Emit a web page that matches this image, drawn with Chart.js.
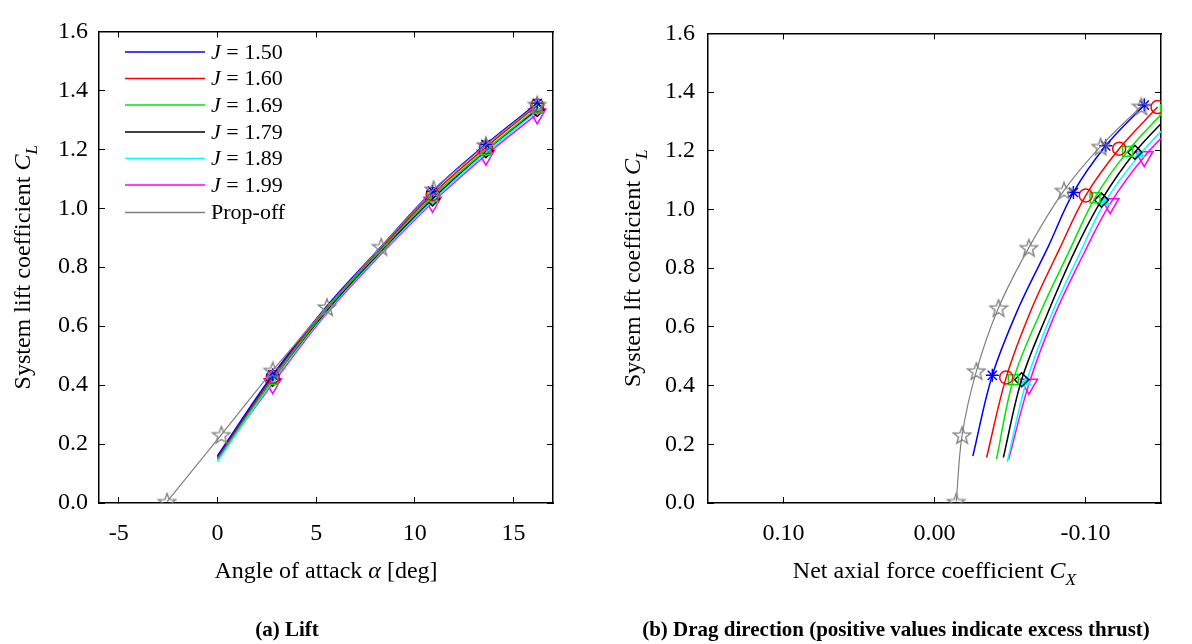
<!DOCTYPE html>
<html>
<head>
<meta charset="utf-8">
<script src="https://cdn.jsdelivr.net/npm/chart.js@4.4.0/dist/chart.umd.min.js"></script>
<style>
body { margin: 0; background: #fff; width: 1192px; height: 644px; overflow: hidden; position: relative; font-family: 'Liberation Serif', serif; }
canvas { position: absolute; top: 0; }
.cap { position: absolute; top: 617px; font-weight: bold; font-size: 21px; transform: translateX(-50%); white-space: nowrap; }
</style>
</head>
<body>
<canvas id="lift" width="596" height="644" style="left:0"></canvas>
<canvas id="drag" width="596" height="644" style="left:596px"></canvas>
<div class="cap" style="left:287px">(a) Lift</div>
<div class="cap" style="left:896px">(b) Drag direction (positive values indicate excess thrust)</div>
<script>
// advance ratios shown in the legend
const jLabels = ['1.50', '1.60', '1.69', '1.79', '1.89', '1.99'];

// tick values
const alphaTicks = [-5, 0, 5, 10, 15];
const cxTicks = [0.10, 0.00, -0.10];
const clTicks = [0, 0.2, 0.4, 0.6, 0.8, 1.0, 1.2, 1.4, 1.6];

// angle of attack along the fitted curves, and which of them are measured points
const alphaCurve = [0, 2.8, 5.5, 8.3, 10.9, 13.6, 16.2];
const measured = [false, true, false, false, true, true, true];

// lift coefficient per J
const clJ150 = [0.160, 0.435, 0.665, 0.870, 1.058, 1.217, 1.356];
const clJ160 = [0.155, 0.428, 0.660, 0.865, 1.048, 1.207, 1.349];
const clJ169 = [0.150, 0.420, 0.655, 0.860, 1.040, 1.198, 1.340];
const clJ179 = [0.155, 0.420, 0.650, 0.855, 1.032, 1.195, 1.335];
const clJ189 = [0.140, 0.412, 0.645, 0.850, 1.025, 1.187, 1.330];
const clJ199 = [0.148, 0.405, 0.640, 0.845, 1.020, 1.180, 1.320];

// net axial force coefficient per J
const cxJ150 = [-0.0254, -0.0383, -0.0557, -0.0750, -0.0920, -0.1134, -0.1389];
const cxJ160 = [-0.0345, -0.0475, -0.0642, -0.0827, -0.1002, -0.1223, -0.1477];
const cxJ169 = [-0.0411, -0.0522, -0.0706, -0.0894, -0.1063, -0.1278, -0.1530];
const cxJ179 = [-0.0456, -0.0577, -0.0752, -0.0926, -0.1106, -0.1327, -0.1580];
const cxJ189 = [-0.0482, -0.0608, -0.0777, -0.0962, -0.1128, -0.1360, -0.1620];
const cxJ199 = [-0.0491, -0.0625, -0.0795, -0.0984, -0.1163, -0.1389, -0.1650];

// prop-off
const alphaPropOff = [-2.55, 0.2, 2.8, 5.55, 8.3, 10.95, 13.6, 16.2];
const clPropOff = [0.005, 0.232, 0.450, 0.665, 0.870, 1.065, 1.215, 1.352];
const cxPropOff = [-0.0144, -0.0183, -0.0278, -0.0424, -0.0625, -0.0858, -0.1100, -0.1370];

const clAll = [clJ150, clJ160, clJ169, clJ179, clJ189, clJ199];
const cxAll = [cxJ150, cxJ160, cxJ169, cxJ179, cxJ189, cxJ199];

const FONT = 'Liberation Serif';
const looks = [
    { color: '#0000ff', style: 'star', r: 6.5, fill: false, rot: 0 },
    { color: '#ff0000', style: 'circle', r: 6.5, fill: false, rot: 0 },
    { color: '#00e600', style: 'rect', r: 7, fill: false, rot: 0 },
    { color: '#000000', style: 'rectRot', r: 7, fill: false, rot: 0 },
    { color: '#00ffff', style: 'triangle', r: 5, fill: true, rot: 0 },
    { color: '#ff00ff', style: 'triangle', r: 10, fill: false, rot: 180 }
];
const grey = '#808080';

function makePentagram(size, color) {
    const c = document.createElement('canvas');
    c.width = size; c.height = size;
    const g = c.getContext('2d');
    const R = size / 2 - 1, r = R * 0.42, m = size / 2;
    g.beginPath();
    for (let i = 0; i < 10; i++) {
        const rad = i % 2 === 0 ? R : r;
        const a = -Math.PI / 2 + i * Math.PI / 5;
        const px = m + rad * Math.cos(a), py = m + 1 + rad * Math.sin(a);
        if (i === 0) g.moveTo(px, py); else g.lineTo(px, py);
    }
    g.closePath();
    g.strokeStyle = color;
    g.lineWidth = 1.4;
    g.stroke();
    return c;
}
const starImg = makePentagram(20, grey);

function pts(xs, ys) {
    return xs.map((x, i) => ({ x: x, y: ys[i] }));
}

function buildDatasets(xsFor, propX, propTension) {
    let sets = [];
    sets.push({
        data: pts(propX, clPropOff),
        showLine: true,
        borderColor: grey,
        borderWidth: 1.2,
        tension: propTension,
        pointStyle: starImg,
        pointRadius: 8,
        order: 0
    });
    looks.forEach((lk, k) => {
        sets.push({
            data: pts(xsFor(k), clAll[k]),
            showLine: true,
            borderColor: lk.color,
            borderWidth: 1.5,
            tension: 0.35,
            pointStyle: lk.style,
            pointRotation: lk.rot,
            pointRadius: measured.map(m => m ? lk.r : 0),
            pointBorderColor: lk.color,
            pointBorderWidth: 1.5,
            pointBackgroundColor: lk.fill ? lk.color : 'rgba(0,0,0,0)',
            order: k + 1
        });
    });
    return sets;
}

function drawRich(ctx, segs, cx, cy, angle, size) {
    ctx.save();
    ctx.translate(cx, cy);
    ctx.rotate(angle);
    ctx.fillStyle = '#000';
    ctx.textBaseline = 'alphabetic';
    let total = 0;
    const parts = segs.map(s => {
        const fs = s.sub ? size * 0.72 : size;
        const f = (s.italic ? 'italic ' : '') + fs + 'px "' + FONT + '"';
        ctx.font = f;
        const w = ctx.measureText(s.t).width;
        total += w;
        return { s: s, f: f, w: w };
    });
    let x = -total / 2;
    parts.forEach(p => {
        ctx.font = p.f;
        ctx.fillText(p.s.t, x, size * 0.33 + (p.s.sub ? size * 0.3 : 0));
        x += p.w;
    });
    ctx.restore();
}

const titlePlugin = {
    id: 'richTitles',
    afterDraw(chart, args, opts) {
        const { ctx, chartArea } = chart;
        drawRich(ctx, opts.x, (chartArea.left + chartArea.right) / 2, opts.xTitleY, 0, 24);
        drawRich(ctx, opts.y, opts.yTitleX, (chartArea.top + chartArea.bottom) / 2, -Math.PI / 2, 24);
    }
};

const legendPlugin = {
    id: 'jLegend',
    afterDraw(chart, args, opts) {
        if (!opts.show) return;
        const ctx = chart.ctx;
        const rows = [52, 78.5, 105, 132, 158.5, 185, 212.5];
        rows.forEach((y, i) => {
            ctx.save();
            ctx.strokeStyle = i < looks.length ? looks[i].color : grey;
            ctx.lineWidth = 1.6;
            ctx.beginPath();
            ctx.moveTo(125, y);
            ctx.lineTo(205, y);
            ctx.stroke();
            ctx.fillStyle = '#000';
            ctx.textBaseline = 'middle';
            if (i < jLabels.length) {
                ctx.font = 'italic 22px "' + FONT + '"';
                ctx.fillText('J', 211, y + 1);
                const w = ctx.measureText('J ').width;
                ctx.font = '22px "' + FONT + '"';
                ctx.fillText('= ' + jLabels[i], 211 + w, y + 1);
            } else {
                ctx.font = '22px "' + FONT + '"';
                ctx.fillText('Prop-off', 211, y + 1);
            }
            ctx.restore();
        });
    }
};

function tickFont() {
    return { family: FONT, size: 24 };
}

function fixTicks(values) {
    return function (s) {
        s.ticks = values.map(v => ({ value: v }));
    };
}

function makeScales(xMin, xMax, xTickVals, reverse, xFmt, yPad, yWidth) {
    const grid = { drawOnChartArea: false, tickLength: -6, color: '#000', tickWidth: 1 };
    const border = { color: '#000', width: 1.5 };
    return {
        x: {
            type: 'linear', position: 'bottom', min: xMin, max: xMax, reverse: reverse,
            afterBuildTicks: fixTicks(xTickVals),
            ticks: { padding: 22, color: '#000', font: tickFont(), maxRotation: 0, autoSkip: false, callback: xFmt },
            grid: grid, border: border,
            afterFit(s) { s.height = 141; }
        },
        xTop: {
            type: 'linear', position: 'top', min: xMin, max: xMax, reverse: reverse,
            afterBuildTicks: fixTicks(xTickVals),
            ticks: { display: false },
            grid: grid, border: border,
            afterFit(s) { s.height = 0; }
        },
        y: {
            type: 'linear', position: 'left', min: 0, max: 1.6,
            afterBuildTicks: fixTicks(clTicks),
            ticks: { padding: yPad, color: '#000', font: tickFont(), autoSkip: false, callback: v => v.toFixed(1) },
            grid: grid, border: border,
            afterFit(s) { s.width = yWidth; }
        },
        yRight: {
            type: 'linear', position: 'right', min: 0, max: 1.6,
            afterBuildTicks: fixTicks(clTicks),
            ticks: { display: false },
            grid: grid, border: border,
            afterFit(s) { s.width = 0; }
        }
    };
}

Chart.register(titlePlugin, legendPlugin);

new Chart(document.getElementById('lift'), {
    type: 'scatter',
    data: { datasets: buildDatasets(k => alphaCurve, alphaPropOff, 0) },
    options: {
        responsive: false,
        animation: false,
        layout: { padding: { top: 15, right: 43, left: 0, bottom: 0 } },
        scales: makeScales(-6, 17, alphaTicks, false, v => String(v), 17, 99),
        plugins: {
            legend: { display: false },
            tooltip: { enabled: false },
            jLegend: { show: true },
            richTitles: {
                x: [{ t: 'Angle of attack ' }, { t: '\u03b1', italic: true }, { t: ' [deg]' }],
                y: [{ t: 'System lift coefficient ' }, { t: 'C', italic: true }, { t: 'L', italic: true, sub: true }],
                xTitleY: 570,
                yTitleX: 22
            }
        }
    }
});

new Chart(document.getElementById('drag'), {
    type: 'scatter',
    data: { datasets: buildDatasets(k => cxAll[k], cxPropOff, 0.35) },
    options: {
        responsive: false,
        animation: false,
        layout: { padding: { top: 15, right: 31, left: 0, bottom: 0 } },
        scales: makeScales(-0.15, 0.15, cxTicks, true, v => v.toFixed(2), 19, 112),
        plugins: {
            legend: { display: false },
            tooltip: { enabled: false },
            jLegend: { show: false },
            richTitles: {
                x: [{ t: 'Net axial force coefficient ' }, { t: 'C', italic: true }, { t: 'X', italic: true, sub: true }],
                y: [{ t: 'System lft coefficient ' }, { t: 'C', italic: true }, { t: 'L', italic: true, sub: true }],
                xTitleY: 570,
                yTitleX: 36
            }
        }
    }
});
</script>
</body>
</html>
